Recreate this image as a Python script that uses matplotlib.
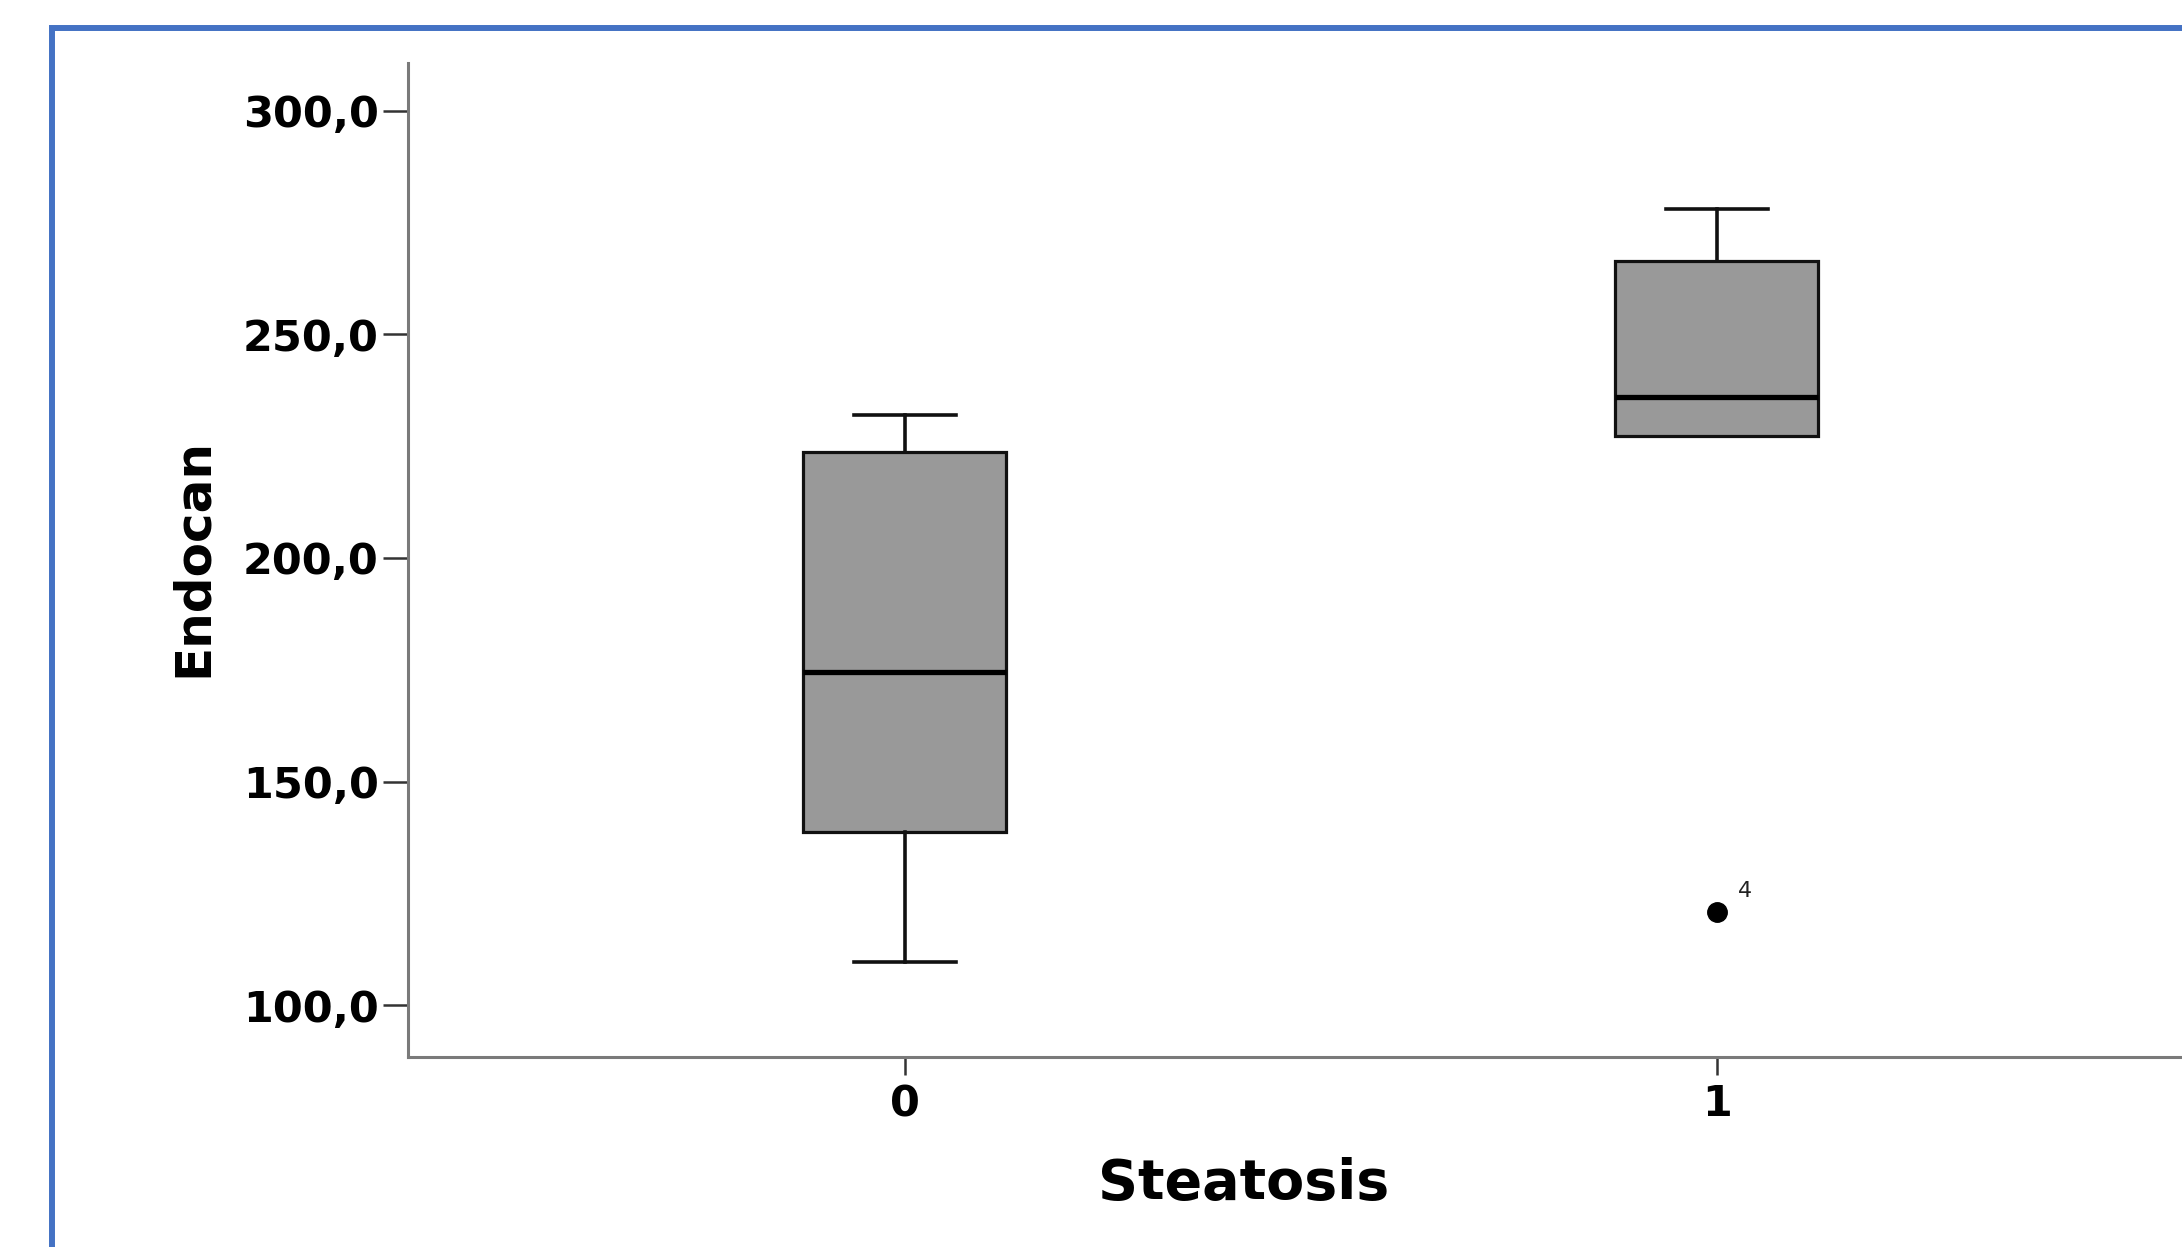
import matplotlib
matplotlib.use("Agg")
import matplotlib.pyplot as plt
from matplotlib.patches import Rectangle

# ---- data ----
categories = ["0", "1"]
q1 = [138.8, 227.3]
median = [174.5, 236.0]
q3 = [223.6, 266.5]
whisker_low = [109.6, 227.3]
whisker_high = [232.0, 278.0]
fliers = [[], [120.8]]
flier_labels = [[], ["4"]]

y_ticks = [100, 150, 200, 250, 300]
y_tick_labels = ["100,0", "150,0", "200,0", "250,0", "300,0"]
x_label = "Steatosis"
y_label = "Endocan"

plt.rcParams['font.family'] = ['DejaVu Sans']

W, H = 2182, 1247
fig = plt.figure(figsize=(W / 100, H / 100), dpi=100)
fig.patch.set_facecolor('white')

# axes placement (pixels -> figure fraction)
ax_left, ax_right, ax_top, ax_bottom = 408, 2182, 63, 1057
ax = fig.add_axes([ax_left / W, 1 - ax_bottom / H,
                   (ax_right - ax_left) / W, (ax_bottom - ax_top) / H])

stats = []
for i in range(len(categories)):
    stats.append(dict(med=median[i], q1=q1[i], q3=q3[i],
                      whislo=whisker_low[i], whishi=whisker_high[i],
                      fliers=fliers[i], label=categories[i]))

positions = list(range(len(categories)))
parts = ax.bxp(stats, positions=positions, widths=0.25, capwidths=0.125,
               patch_artist=True, showfliers=True,
               boxprops=dict(facecolor='#999999', edgecolor='#111111', linewidth=2.3),
               medianprops=dict(color='#000000', linewidth=3.8),
               whiskerprops=dict(color='#111111', linewidth=2.6),
               capprops=dict(color='#111111', linewidth=2.6),
               flierprops=dict(marker='o', markerfacecolor='black',
                               markeredgecolor='black', markersize=14))

# hide zero-length whiskers/caps (whisker end coincides with box edge)
for i in range(len(categories)):
    if whisker_low[i] == q1[i]:
        parts['caps'][2 * i].set_visible(False)
        parts['whiskers'][2 * i].set_visible(False)
    if whisker_high[i] == q3[i]:
        parts['caps'][2 * i + 1].set_visible(False)
        parts['whiskers'][2 * i + 1].set_visible(False)

for i, (fl, labs) in enumerate(zip(fliers, flier_labels)):
    for v, lab in zip(fl, labs):
        ax.annotate(lab, xy=(positions[i], v), xytext=(20, 15),
                    textcoords='offset points', ha='center', va='center',
                    fontsize=16, color='#222222')

ax.set_xlim(-0.612, 1.573)
ax.set_ylim(88.4, 310.7)

ax.set_yticks(y_ticks)
ax.set_yticklabels(y_tick_labels)
ax.set_xticks(positions)
ax.set_xticklabels(categories)

for s in ['top', 'right']:
    ax.spines[s].set_visible(False)
for s in ['left', 'bottom']:
    ax.spines[s].set_color('#7a7a7a')
    ax.spines[s].set_linewidth(2.2)

ax.tick_params(axis='y', length=18, width=1.8, color='#333333', pad=3,
               labelsize=31)
ax.tick_params(axis='x', length=13, width=1.8, color='#333333', pad=6,
               labelsize=31)
for lab in ax.get_xticklabels() + ax.get_yticklabels():
    lab.set_fontweight('bold')

ax.set_xlabel(x_label, fontsize=40, fontweight='bold', va='center')
ax.xaxis.set_label_coords((1244 - ax_left) / (ax_right - ax_left),
                          (ax_bottom - 1184) / (ax_bottom - ax_top))
ax.set_ylabel(y_label, fontsize=36, fontweight='bold', va='center')
ax.yaxis.set_label_coords((193 - ax_left) / (ax_right - ax_left), 0.503)

# blue frame (left and top edges visible, rest runs off the canvas)
frame = Rectangle((52 / W, -0.2), 1.3, (1 - 28 / H) + 0.2,
                  transform=fig.transFigure, fill=False,
                  edgecolor='#4472C4', linewidth=4.3, clip_on=False)
fig.add_artist(frame)

fig.savefig("out.png", dpi=100, facecolor='white')
